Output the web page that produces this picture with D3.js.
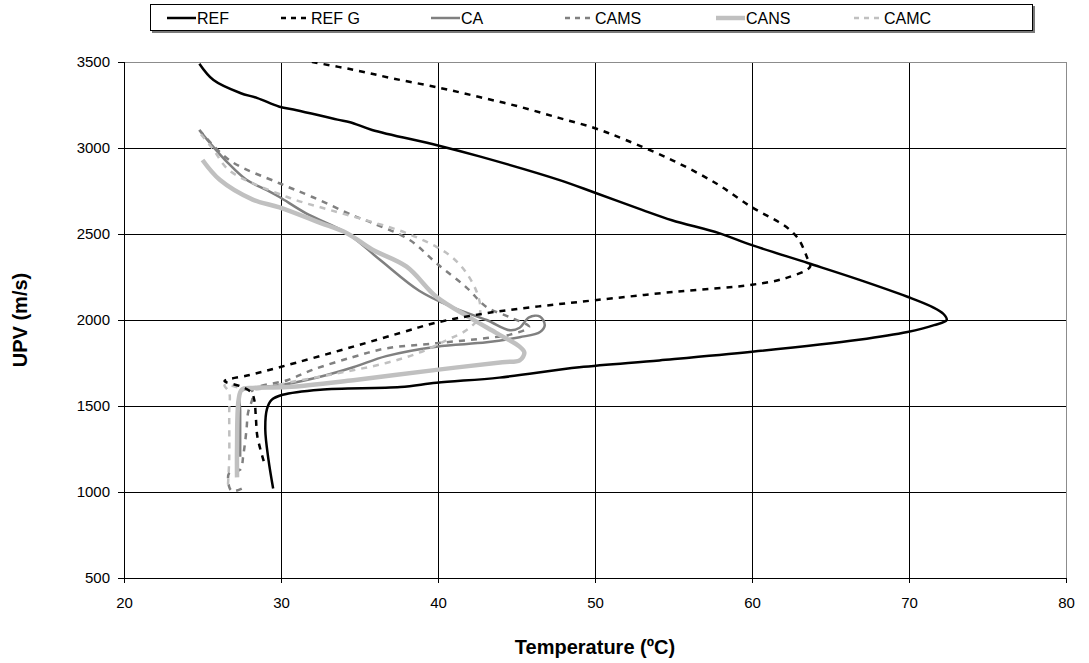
<!DOCTYPE html>
<html>
<head>
<meta charset="utf-8">
<script src="https://cdn.jsdelivr.net/npm/d3@7/dist/d3.min.js"></script>
<style>
  body { margin: 0; background: #fff; }
  svg { display: block; }
  text { font-family: "Liberation Sans", Arial, sans-serif; fill: #000; }
</style>
</head>
<body>
<svg id="chart" width="1089" height="663"></svg>
<script>
// Axis ticks
const tempTicks = [20, 30, 40, 50, 60, 70, 80];
const upvTicks = [500, 1000, 1500, 2000, 2500, 3000, 3500];

// Series names (legend order)
const seriesNames = ["REF", "REF G", "CA", "CAMS", "CANS", "CAMC"];

// REF
const refTemp = [29.5, 29.2, 29.0, 29.1, 29.4, 30.1, 32.5, 37.6, 39.9, 43.9, 49.0, 54.1, 60.0, 66.8, 69.9, 71.6, 72.4, 72.2, 71.5, 69.9, 66.8, 63.6, 60.0, 57.9, 54.9, 53.0, 50.0, 47.7, 42.7, 40.0, 35.8, 34.4, 33.6, 31.0, 29.9, 28.5, 27.4, 25.7, 24.8];
const refUpv  = [1020, 1190, 1360, 1480, 1535, 1565, 1595, 1610, 1635, 1665, 1725, 1765, 1815, 1885, 1930, 1970, 2000, 2035, 2075, 2135, 2235, 2330, 2435, 2505, 2580, 2640, 2740, 2815, 2950, 3015, 3105, 3150, 3165, 3220, 3240, 3290, 3320, 3395, 3490];

// REF G
const refGTemp = [28.9, 28.5, 28.4, 28.3, 28.1, 27.4, 26.4, 28.0, 29.9, 34.6, 37.6, 39.9, 43.1, 46.5, 50.0, 55.2, 60.0, 62.2, 63.7, 63.5, 63.0, 62.4, 61.7, 60.0, 57.7, 54.9, 52.0, 50.0, 47.7, 45.2, 42.7, 40.1, 37.1, 34.6, 32.0, 31.0];
const refGUpv  = [1180, 1320, 1430, 1535, 1580, 1615, 1645, 1680, 1725, 1845, 1925, 1985, 2040, 2080, 2115, 2165, 2205, 2245, 2310, 2365, 2465, 2525, 2570, 2655, 2795, 2930, 3045, 3115, 3175, 3240, 3295, 3350, 3405, 3455, 3500, 3520];

// CA
const caTemp = [24.8, 25.7, 26.6, 27.8, 29.1, 29.9, 31.6, 34.2, 36.3, 38.8, 40.9, 43.1, 44.6, 45.2, 45.8, 46.5, 46.8, 46.5, 45.2, 43.1, 39.9, 36.7, 34.6, 32.5, 29.9, 28.2, 27.4, 27.4, 27.4, 27.4];
const caUpv  = [3105, 3005, 2915, 2815, 2755, 2715, 2620, 2505, 2350, 2170, 2075, 2000, 1940, 1955, 2015, 2020, 1970, 1930, 1900, 1870, 1845, 1790, 1725, 1670, 1620, 1605, 1580, 1475, 1330, 1205];

// CAMS
const camsTemp = [24.8, 26.7, 29.9, 32.0, 34.8, 35.8, 38.2, 39.9, 41.8, 43.1, 44.6, 45.8, 44.6, 43.1, 39.9, 36.7, 34.6, 32.0, 30.4, 28.2, 28.2, 27.9, 27.8, 27.6, 27.4, 26.7, 26.7, 26.9, 27.5];
const camsUpv  = [3105, 2930, 2795, 2715, 2600, 2565, 2465, 2330, 2190, 2075, 2015, 1960, 1915, 1895, 1865, 1835, 1785, 1710, 1650, 1595, 1550, 1460, 1360, 1215, 1130, 1110, 1030, 1005, 1020];

// CANS
const cansTemp = [25.0, 26.1, 28.2, 29.9, 32.5, 34.2, 35.8, 38.0, 39.9, 42.0, 43.7, 45.2, 45.5, 45.2, 44.1, 39.9, 34.6, 30.4, 28.2, 27.5, 27.3, 27.2, 27.2];
const cansUpv  = [2930, 2815, 2700, 2655, 2565, 2505, 2410, 2310, 2135, 2015, 1925, 1845, 1810, 1765, 1755, 1710, 1650, 1610, 1605, 1595, 1535, 1260, 1085];

// CAMC
const camcTemp = [24.9, 25.7, 26.7, 30.4, 33.1, 35.8, 38.0, 39.9, 40.9, 41.8, 42.5, 42.7, 42.5, 41.8, 40.6, 38.8, 36.7, 33.6, 30.4, 28.2, 26.4, 26.7, 26.7, 26.7, 26.6];
const camcUpv  = [3080, 2990, 2870, 2715, 2640, 2570, 2505, 2425, 2365, 2275, 2155, 2060, 2000, 1940, 1885, 1810, 1750, 1690, 1635, 1595, 1620, 1580, 1460, 1190, 1010];

const seriesData = [
  [refTemp, refUpv], [refGTemp, refGUpv], [caTemp, caUpv],
  [camsTemp, camsUpv], [cansTemp, cansUpv], [camcTemp, camcUpv]
];

// Line appearance for each series
const styles = [
  { color: "#000000", width: 2.5, dash: null },
  { color: "#000000", width: 2.5, dash: "6,6" },
  { color: "#808080", width: 2.5, dash: null },
  { color: "#808080", width: 2.5, dash: "6,6" },
  { color: "#c0c0c0", width: 4.5, dash: null },
  { color: "#c0c0c0", width: 2.5, dash: "6,6" }
];

const svg = d3.select("#chart");
const plot = { left: 124, right: 1066, top: 62, bottom: 578 };

const x = d3.scaleLinear().domain([20, 80]).range([plot.left, plot.right]);
const y = d3.scaleLinear().domain([500, 3500]).range([plot.bottom, plot.top]);

// Plot background
svg.append("rect")
  .attr("x", plot.left).attr("y", plot.top)
  .attr("width", plot.right - plot.left).attr("height", plot.bottom - plot.top)
  .attr("fill", "#fff");

// Grid lines
const grid = svg.append("g").attr("shape-rendering", "crispEdges");
grid.selectAll(".vg").data(tempTicks.slice(1, -1)).join("line")
  .attr("x1", d => Math.round(x(d)) + 0.5).attr("x2", d => Math.round(x(d)) + 0.5)
  .attr("y1", plot.top).attr("y2", plot.bottom)
  .attr("stroke", "#000").attr("stroke-width", 1);
grid.selectAll(".hg").data(upvTicks.slice(1, -1)).join("line")
  .attr("y1", d => Math.round(y(d)) + 0.5).attr("y2", d => Math.round(y(d)) + 0.5)
  .attr("x1", plot.left).attr("x2", plot.right)
  .attr("stroke", "#000").attr("stroke-width", 1);

// Top and right frame
svg.append("path")
  .attr("d", `M${plot.left},${plot.top + 0.5}H${plot.right + 0.5}V${plot.bottom}`)
  .attr("fill", "none").attr("stroke", "#8c8c8c").attr("stroke-width", 1)
  .attr("shape-rendering", "crispEdges");

// Data lines, clipped to the plot area
svg.append("clipPath").attr("id", "clip").append("rect")
  .attr("x", plot.left).attr("y", plot.top)
  .attr("width", plot.right - plot.left).attr("height", plot.bottom - plot.top);

const line = d3.line()
  .x(d => x(d[0])).y(d => y(d[1]))
  .curve(d3.curveCatmullRom.alpha(0.5));

const lines = svg.append("g").attr("clip-path", "url(#clip)");
seriesData.forEach(([t, v], i) => {
  const pts = t.map((tv, k) => [tv, v[k]]);
  const s = styles[i];
  lines.append("path")
    .datum(pts)
    .attr("d", line)
    .attr("fill", "none")
    .attr("stroke", s.color)
    .attr("stroke-width", s.width)
    .attr("stroke-dasharray", s.dash)
    .attr("stroke-linejoin", "round");
});
// draw order: black series on top of the grey ones
lines.selectAll("path").filter((d, i) => i < 2).raise();

// Axes
const xAxis = d3.axisBottom(x).tickValues(tempTicks).tickSize(5).tickPadding(14).tickFormat(d3.format("d"));
const yAxis = d3.axisLeft(y).tickValues(upvTicks).tickSize(6).tickPadding(8).tickFormat(d3.format("d"));

const gx = svg.append("g").attr("transform", `translate(0,${plot.bottom})`).call(xAxis);
const gy = svg.append("g").attr("transform", `translate(${plot.left},0)`).call(yAxis);
[gx, gy].forEach(g => {
  g.select(".domain").attr("stroke", "#000").attr("shape-rendering", "crispEdges");
  g.selectAll(".tick line").attr("stroke", "#000").attr("shape-rendering", "crispEdges");
  g.selectAll(".tick text").attr("font-size", 15).attr("font-family", '"Liberation Sans", Arial, sans-serif').attr("fill", "#000");
});

// Axis titles
svg.append("text")
  .attr("x", (plot.left + plot.right) / 2).attr("y", 654)
  .attr("text-anchor", "middle").attr("font-size", 20).attr("font-weight", "bold")
  .text("Temperature (ºC)");
svg.append("text")
  .attr("transform", `translate(27,${(plot.top + plot.bottom) / 2}) rotate(-90)`)
  .attr("text-anchor", "middle").attr("font-size", 20).attr("font-weight", "bold")
  .text("UPV (m/s)");

// Legend
const legend = svg.append("g");
legend.append("rect").attr("x", 152).attr("y", 6).attr("width", 883).attr("height", 27).attr("fill", "#7a7a7a");
legend.append("rect").attr("x", 150.5).attr("y", 4.5).attr("width", 882).attr("height", 26)
  .attr("fill", "#fff").attr("stroke", "#000").attr("stroke-width", 1);
const legendX = [167, 281, 431, 565, 716, 854];
seriesNames.forEach((name, i) => {
  const s = styles[i];
  legend.append("line")
    .attr("x1", legendX[i]).attr("x2", legendX[i] + 29)
    .attr("y1", 18).attr("y2", 18)
    .attr("stroke", s.color).attr("stroke-width", s.width)
    .attr("stroke-dasharray", s.dash ? "5,5" : null);
  legend.append("text")
    .attr("x", legendX[i] + 30).attr("y", 24)
    .attr("font-size", 16)
    .text(name);
});
</script>
</body>
</html>
